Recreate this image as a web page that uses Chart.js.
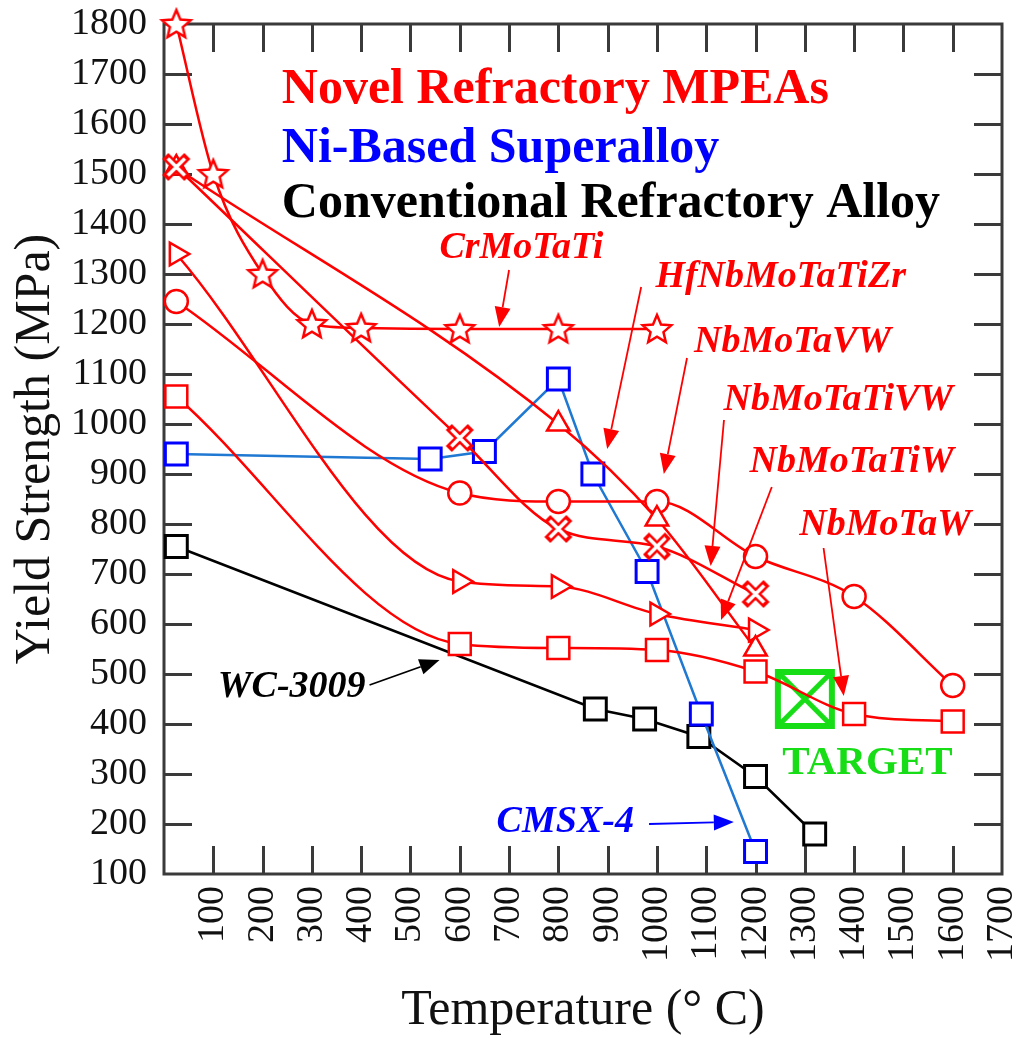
<!DOCTYPE html>
<html>
<head>
<meta charset="utf-8">
<script src="https://cdn.jsdelivr.net/npm/chart.js@4.4.0/dist/chart.umd.min.js"></script>
<style>
  html, body { margin: 0; padding: 0; background: #fff; }
  #wrap { width: 1017px; height: 1038px; }
</style>
</head>
<body>
<div id="wrap"><canvas id="chart" width="1017" height="1038"></canvas></div>
<script>
// Yield strength vs temperature: refractory MPEAs, Ni superalloy, conventional alloy

// --- data (temperature in C, yield strength in MPa) ---
var crMoTaTiTemp = [25, 100, 200, 300, 400, 600, 800, 1000];
var crMoTaTiYS = [1800, 1500, 1300, 1200, 1192, 1190, 1190, 1190];

var hfNbMoTaTiZrTemp = [25, 800, 1000, 1200];
var hfNbMoTaTiZrYS = [1512, 1000, 810, 550];

var nbMoTaTiVWTemp = [25, 600, 800, 1000, 1200];
var nbMoTaTiVWYS = [1514, 972, 790, 755, 660];

var nbMoTaTiWTemp = [25, 600, 800, 1000, 1200];
var nbMoTaTiWYS = [1340, 685, 675, 620, 588];

var nbMoTaVWTemp = [25, 600, 800, 1000, 1200, 1400, 1600];
var nbMoTaVWYS = [1245, 862, 845, 845, 735, 655, 477];

var nbMoTaWTemp = [25, 600, 800, 1000, 1200, 1400, 1600];
var nbMoTaWYS = [1055, 560, 552, 548, 505, 420, 405];

var cmsx4Temp = [25, 540, 650, 800, 870, 980, 1090, 1200];
var cmsx4YS = [940, 930, 945, 1090, 900, 705, 420, 145];

var wc3009Temp = [25, 875, 975, 1085, 1200, 1320];
var wc3009YS = [755, 430, 410, 375, 295, 180];

var targetTemp = [1300];
var targetYS = [450];

var xMin = 0, xMax = 1700, xStep = 100;
var yMin = 100, yMax = 1800, yStep = 100;

var RED = '#ff0000';
var BLUE = '#0000ff';
var BLUE_LINE = '#1f78d2';
var BLACK = '#000000';
var GREEN = '#16dd16';
var SERIF = '"Liberation Serif", "Times New Roman", serif';
var TICK = 28;

// annotation texts and arrows, in data coordinates
var headings = [
  { text: 'Novel Refractory MPEAs', x: 239, y: 1642, color: RED },
  { text: 'Ni-Based Superalloy', x: 239, y: 1524, color: BLUE },
  { text: 'Conventional Refractory Alloy', x: 239, y: 1414, color: BLACK }
];
var noteLabels = [
  { text: 'CrMoTaTi', x: 725, y: 1352, color: RED },
  { text: 'HfNbMoTaTiZr', x: 1251, y: 1294, color: RED },
  { text: 'NbMoTaVW', x: 1275, y: 1164, color: RED },
  { text: 'NbMoTaTiVW', x: 1368, y: 1048, color: RED },
  { text: 'NbMoTaTiW', x: 1395, y: 924, color: RED },
  { text: 'NbMoTaW', x: 1463, y: 798, color: RED },
  { text: 'WC-3009', x: 259, y: 474, color: BLACK },
  { text: 'CMSX-4', x: 814, y: 204, color: BLUE }
];
var noteArrows = [
  { x1: 700, y1: 1308, x2: 680, y2: 1194, color: RED },
  { x1: 968, y1: 1274, x2: 899, y2: 950, color: RED },
  { x1: 1061, y1: 1132, x2: 1014, y2: 900, color: RED },
  { x1: 1136, y1: 1008, x2: 1109, y2: 716, color: RED },
  { x1: 1233, y1: 874, x2: 1130, y2: 608, color: RED },
  { x1: 1338, y1: 752, x2: 1379, y2: 456, color: RED },
  { x1: 417, y1: 478, x2: 559, y2: 528, color: BLACK },
  { x1: 984, y1: 200, x2: 1156, y2: 204, color: BLUE }
];
var targetLabel = { text: 'TARGET', x: 1427, y: 322, color: GREEN };

function pts(t, s) {
  return t.map(function (x, i) { return { x: x, y: s[i] }; });
}

// --- custom marker images ---
function makeStar(color) {
  var c = document.createElement('canvas');
  c.width = 36; c.height = 36;
  var g = c.getContext('2d');
  g.translate(18, 19);
  g.beginPath();
  for (var i = 0; i < 10; i++) {
    var r = i % 2 === 0 ? 15 : 6.8;
    var a = -Math.PI / 2 + i * Math.PI / 5;
    if (i === 0) g.moveTo(r * Math.cos(a), r * Math.sin(a));
    else g.lineTo(r * Math.cos(a), r * Math.sin(a));
  }
  g.closePath();
  g.fillStyle = '#fff';
  g.fill();
  g.lineWidth = 2.5;
  g.strokeStyle = color;
  g.stroke();
  return c;
}

function makeCross(color) {
  var c = document.createElement('canvas');
  c.width = 32; c.height = 32;
  var g = c.getContext('2d');
  g.translate(16, 16);
  g.lineCap = 'square';
  g.beginPath();
  g.moveTo(-8, -8); g.lineTo(8, 8);
  g.moveTo(8, -8); g.lineTo(-8, 8);
  g.strokeStyle = color;
  g.lineWidth = 8.5;
  g.stroke();
  g.strokeStyle = '#fff';
  g.lineWidth = 3.5;
  g.lineCap = 'butt';
  g.beginPath();
  g.moveTo(-8.5, -8.5); g.lineTo(8.5, 8.5);
  g.moveTo(8.5, -8.5); g.lineTo(-8.5, 8.5);
  g.stroke();
  return c;
}

function makeTarget(color) {
  var c = document.createElement('canvas');
  c.width = 62; c.height = 62;
  var g = c.getContext('2d');
  g.strokeStyle = color;
  g.lineWidth = 6;
  g.strokeRect(4, 4, 54, 54);
  g.lineWidth = 5;
  g.beginPath();
  g.moveTo(6, 6); g.lineTo(56, 56);
  g.moveTo(56, 6); g.lineTo(6, 56);
  g.stroke();
  return c;
}

var starImg = makeStar(RED);
var crossImg = makeCross(RED);
var targetImg = makeTarget(GREEN);

function redSeries(label, t, s, style, radius, rotation) {
  return {
    label: label,
    data: pts(t, s),
    borderColor: RED,
    borderWidth: 2.5,
    pointStyle: style,
    pointRadius: radius,
    pointRotation: rotation || 0,
    pointBackgroundColor: '#fff',
    pointBorderColor: RED,
    pointBorderWidth: 2.5,
    cubicInterpolationMode: 'monotone',
    clip: false
  };
}

var datasets = [
  redSeries('CrMoTaTi', crMoTaTiTemp, crMoTaTiYS, starImg, 15),
  redSeries('NbMoTaTiVW', nbMoTaTiVWTemp, nbMoTaTiVWYS, crossImg, 13),
  redSeries('HfNbMoTaTiZr', hfNbMoTaTiZrTemp, hfNbMoTaTiZrYS, 'triangle', 13),
  redSeries('NbMoTaTiW', nbMoTaTiWTemp, nbMoTaTiWYS, 'triangle', 13, 90),
  redSeries('NbMoTaVW', nbMoTaVWTemp, nbMoTaVWYS, 'circle', 11.5),
  redSeries('NbMoTaW', nbMoTaWTemp, nbMoTaWYS, 'rect', 15.5),
  {
    label: 'CMSX-4',
    data: pts(cmsx4Temp, cmsx4YS),
    borderColor: BLUE_LINE,
    borderWidth: 2.5,
    pointStyle: 'rect',
    pointRadius: 15.5,
    pointBackgroundColor: '#fff',
    pointBorderColor: BLUE,
    pointBorderWidth: 3,
    tension: 0,
    clip: false
  },
  {
    label: 'WC-3009',
    data: pts(wc3009Temp, wc3009YS),
    borderColor: BLACK,
    borderWidth: 2.5,
    pointStyle: 'rect',
    pointRadius: 15.5,
    pointBackgroundColor: '#fff',
    pointBorderColor: BLACK,
    pointBorderWidth: 3,
    tension: 0,
    clip: false
  },
  {
    label: 'Target',
    data: pts(targetTemp, targetYS),
    showLine: false,
    pointStyle: targetImg,
    pointRadius: 28,
    clip: false
  }
];

// --- frame with inward ticks on all four sides ---
var framePlugin = {
  id: 'frame',
  beforeDatasetsDraw: function (chart) {
    var a = chart.chartArea, c = chart.ctx;
    var xs = chart.scales.x, ys = chart.scales.y;
    c.save();
    c.strokeStyle = '#3a3a3a';
    c.lineWidth = 3;
    c.beginPath();
    xs.ticks.forEach(function (t) {
      if (t.value <= xs.min || t.value >= xs.max) return;
      var px = Math.round(xs.getPixelForValue(t.value)) + 0.5;
      c.moveTo(px, a.bottom); c.lineTo(px, a.bottom - TICK);
      c.moveTo(px, a.top); c.lineTo(px, a.top + TICK);
    });
    ys.ticks.forEach(function (t) {
      if (t.value <= ys.min || t.value >= ys.max) return;
      var py = Math.round(ys.getPixelForValue(t.value)) + 0.5;
      c.moveTo(a.left, py); c.lineTo(a.left + TICK, py);
      c.moveTo(a.right, py); c.lineTo(a.right - TICK, py);
    });
    c.stroke();
    c.strokeRect(a.left, a.top, a.right - a.left, a.bottom - a.top);
    c.restore();
  }
};

function drawArrow(c, x1, y1, x2, y2, color) {
  var ang = Math.atan2(y2 - y1, x2 - x1);
  var len = 20, half = 8;
  var bx = x2 - len * Math.cos(ang), by = y2 - len * Math.sin(ang);
  c.strokeStyle = color;
  c.fillStyle = color;
  c.lineWidth = 1.8;
  c.beginPath();
  c.moveTo(x1, y1);
  c.lineTo(bx, by);
  c.stroke();
  c.beginPath();
  c.moveTo(x2, y2);
  c.lineTo(bx + half * Math.sin(ang), by - half * Math.cos(ang));
  c.lineTo(bx - half * Math.sin(ang), by + half * Math.cos(ang));
  c.closePath();
  c.fill();
}

// --- labels, arrows and the coloured headings ---
var notesPlugin = {
  id: 'notes',
  afterDatasetsDraw: function (chart) {
    var c = chart.ctx, xs = chart.scales.x, ys = chart.scales.y;
    c.save();
    c.textBaseline = 'alphabetic';
    c.textAlign = 'left';
    c.font = 'bold 50px ' + SERIF;
    headings.forEach(function (h) {
      c.fillStyle = h.color;
      c.fillText(h.text, xs.getPixelForValue(h.x), ys.getPixelForValue(h.y));
    });

    c.textAlign = 'center';
    c.textBaseline = 'middle';
    c.font = 'italic bold 38px ' + SERIF;
    noteLabels.forEach(function (n) {
      c.fillStyle = n.color;
      c.fillText(n.text, xs.getPixelForValue(n.x), ys.getPixelForValue(n.y));
    });
    noteArrows.forEach(function (r) {
      drawArrow(c, xs.getPixelForValue(r.x1), ys.getPixelForValue(r.y1),
        xs.getPixelForValue(r.x2), ys.getPixelForValue(r.y2), r.color);
    });

    c.font = 'bold 41px ' + SERIF;
    c.fillStyle = targetLabel.color;
    c.fillText(targetLabel.text, xs.getPixelForValue(targetLabel.x), ys.getPixelForValue(targetLabel.y));
    c.restore();
  }
};

new Chart(document.getElementById('chart'), {
  type: 'line',
  data: { datasets: datasets },
  plugins: [framePlugin, notesPlugin],
  options: {
    responsive: false,
    devicePixelRatio: 1,
    animation: false,
    layout: { autoPadding: false, padding: { top: 24, right: 15, left: 0, bottom: 0 } },
    scales: {
      x: {
        type: 'linear',
        min: xMin,
        max: xMax,
        afterFit: function (s) {
          s.height = 164;
          s.paddingLeft = 0; s.paddingRight = 0;
        },
        grid: { display: false, drawTicks: false },
        border: { display: false },
        ticks: {
          stepSize: xStep,
          autoSkip: false,
          minRotation: 90,
          maxRotation: 90,
          padding: 12,
          color: '#111',
          font: { family: SERIF, size: 38 },
          callback: function (v) { return v === xMin ? '' : String(v); }
        },
        title: {
          display: true,
          text: 'Temperature (° C)',
          color: '#111',
          font: { family: SERIF, size: 50, lineHeight: 1.1 },
          padding: 0
        }
      },
      y: {
        type: 'linear',
        min: yMin,
        max: yMax,
        afterFit: function (s) {
          s.width = 164;
          s.paddingTop = 0; s.paddingBottom = 0;
        },
        grid: { display: false, drawTicks: false },
        border: { display: false },
        ticks: {
          stepSize: yStep,
          padding: 17,
          color: '#111',
          font: { family: SERIF, size: 38 },
          callback: function (v) { return String(v); }
        },
        title: {
          display: true,
          text: 'Yield Strength (MPa)',
          color: '#111',
          font: { family: SERIF, size: 50, lineHeight: 1.2 },
          padding: { top: 6, bottom: 0 }
        }
      }
    },
    plugins: {
      legend: { display: false },
      tooltip: { enabled: false }
    }
  }
});
</script>
</body>
</html>
